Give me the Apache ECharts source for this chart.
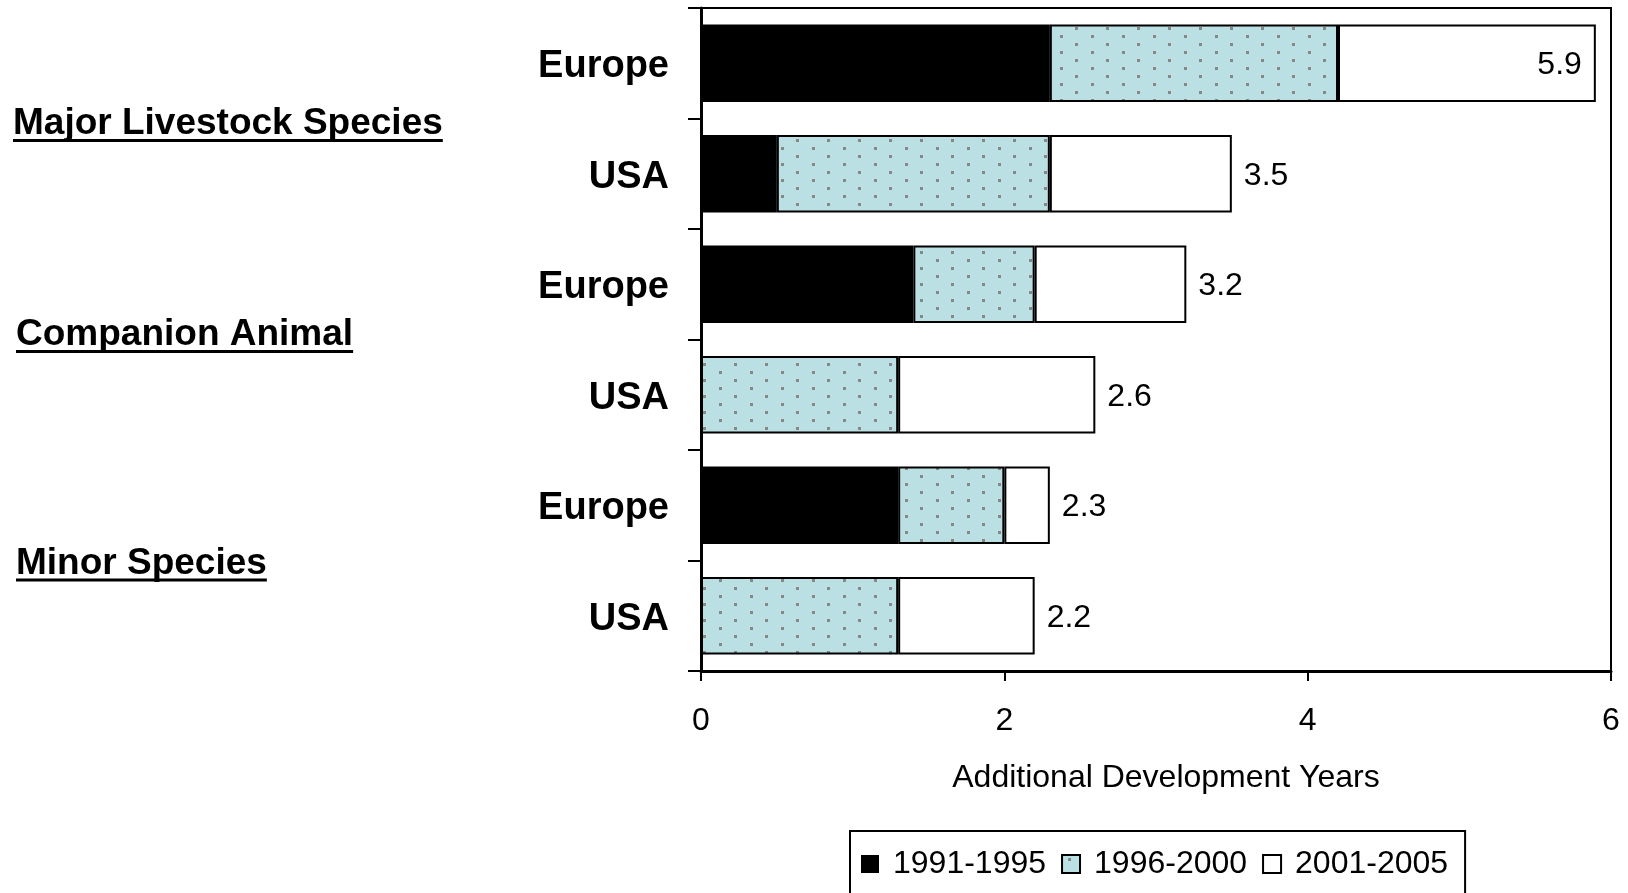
<!DOCTYPE html>
<html>
<head>
<meta charset="utf-8">
<script src="https://cdn.jsdelivr.net/npm/echarts@6/dist/echarts.min.js"></script>
<style>
  html, body { margin: 0; padding: 0; background: #fff; }
  #chart { width: 1628px; height: 893px; }
</style>
</head>
<body>
<div id="chart"></div>
<script>
// Rows from top to bottom, two regions per species group
const regions = ['Europe', 'USA', 'Europe', 'USA', 'Europe', 'USA'];
const groups = ['Major Livestock Species', 'Companion Animal', 'Minor Species'];
const periods = ['1991-1995', '1996-2000', '2001-2005'];

// Additional development years contributed in each period
const years1991to1995 = [2.3, 0.5, 1.4, 0.0, 1.3, 0.0];
const years1996to2000 = [1.9, 1.8, 0.8, 1.3, 0.7, 1.3];
const years2001to2005 = [1.7, 1.2, 1.0, 1.3, 0.3, 0.9];

const xAxisTitle = 'Additional Development Years';
const xTickValues = [0, 2, 4, 6];

const FONT = "'Liberation Sans', Arial, Helvetica, sans-serif";

// Light blue fill with staggered grey dots
function dottedPattern() {
  const c = document.createElement('canvas');
  c.width = 31; c.height = 16;
  const g = c.getContext('2d');
  g.fillStyle = '#BBE0E3';
  g.fillRect(0, 0, 31, 16);
  g.fillStyle = '#878787';
  g.fillRect(6, 3, 3, 3);
  g.fillRect(21, 11, 3, 3);
  return c;
}

const totals = regions.map((_, i) => years1991to1995[i] + years1996to2000[i] + years2001to2005[i]);
const xMax = xTickValues[xTickValues.length - 1];
const rowKeys = regions.map((r, i) => i + '|' + r);

function measure(text, font) {
  const g = document.createElement('canvas').getContext('2d');
  g.font = font;
  return g.measureText(text).width;
}

// Underlined group headings on the far left
const groupFont = 'bold 37px ' + FONT;
const groupPos = [[13, 124], [16, 335], [16, 563.5]];
const groupGraphics = groups.map((name, i) => {
  const w = measure(name, groupFont);
  const [x, y] = groupPos[i];
  return {
    type: 'group',
    children: [
      { type: 'text', x: x, y: y,
        style: { text: name, font: groupFont, fill: '#000', textAlign: 'left', textVerticalAlign: 'middle' } },
      { type: 'rect', shape: { x: x, y: y + 15, width: w, height: 3 }, style: { fill: '#000' } }
    ]
  };
});

const baseBar = {
  type: 'bar',
  stack: 'years',
  barCategoryGap: '30%',
  emphasis: { disabled: true }
};

const option = {
  animation: false,
  backgroundColor: '#fff',
  textStyle: { fontFamily: FONT, color: '#000' },
  grid: {
    left: 701, top: 8, width: 910, height: 663,
    show: true, borderColor: '#000', borderWidth: 2, backgroundColor: 'transparent'
  },
  legend: {
    left: 850, top: 831,
    data: periods,
    icon: 'rect',
    itemWidth: 18, itemHeight: 18,
    itemGap: 15,
    borderColor: '#000', borderWidth: 2,
    padding: [17, 17, 40, 11],
    textStyle: { fontSize: 32, color: '#000', fontFamily: FONT, padding: [0, 0, 0, 9] },
    selectedMode: false
  },
  xAxis: {
    type: 'value',
    min: 0, max: xMax, interval: 2,
    name: xAxisTitle,
    nameLocation: 'middle',
    nameGap: 91,
    nameTextStyle: { fontSize: 32, color: '#000', fontFamily: FONT, padding: [0, 0, 0, 20] },
    axisLine: { show: true, lineStyle: { color: '#000', width: 3 } },
    axisTick: { show: true, length: 10, lineStyle: { color: '#000', width: 2 } },
    axisLabel: { fontSize: 32, color: '#000', margin: 34, fontFamily: FONT },
    splitLine: { show: false }
  },
  yAxis: {
    type: 'category',
    inverse: true,
    data: rowKeys,
    axisLine: { show: true, onZero: false, lineStyle: { color: '#000', width: 3 } },
    axisTick: { show: true, length: 13, interval: 0, lineStyle: { color: '#000', width: 2 } },
    axisLabel: {
      margin: 32,
      formatter: v => '{r|' + v.split('|')[1] + '}',
      rich: {
        r: {
          fontSize: 38, fontWeight: 'bold', color: '#000', fontFamily: FONT,
          lineHeight: 44, padding: [7, 0, 0, 0]
        }
      }
    }
  },
  graphic: groupGraphics,
  series: [
    Object.assign({}, baseBar, {
      name: periods[0],
      data: years1991to1995,
      itemStyle: { color: '#000', borderColor: '#000', borderWidth: 0 }
    }),
    Object.assign({}, baseBar, {
      name: periods[1],
      data: years1996to2000,
      itemStyle: { color: { image: dottedPattern(), repeat: 'repeat' }, borderColor: '#000', borderWidth: 2 }
    }),
    Object.assign({}, baseBar, {
      name: periods[2],
      data: years2001to2005.map((v, i) => ({
        value: v,
        label: totals[i] > xMax - 0.5
          ? { position: 'insideRight', distance: 14 }
          : { position: 'right', distance: 12 }
      })),
      itemStyle: { color: '#fff', borderColor: '#000', borderWidth: 2 },
      label: {
        show: true,
        fontSize: 32, color: '#000', fontFamily: FONT,
        offset: [0, 2],
        formatter: p => totals[p.dataIndex].toFixed(1)
      }
    })
  ]
};

const chart = echarts.init(document.getElementById('chart'), null, { renderer: 'canvas' });
chart.setOption(option);
</script>
</body>
</html>
